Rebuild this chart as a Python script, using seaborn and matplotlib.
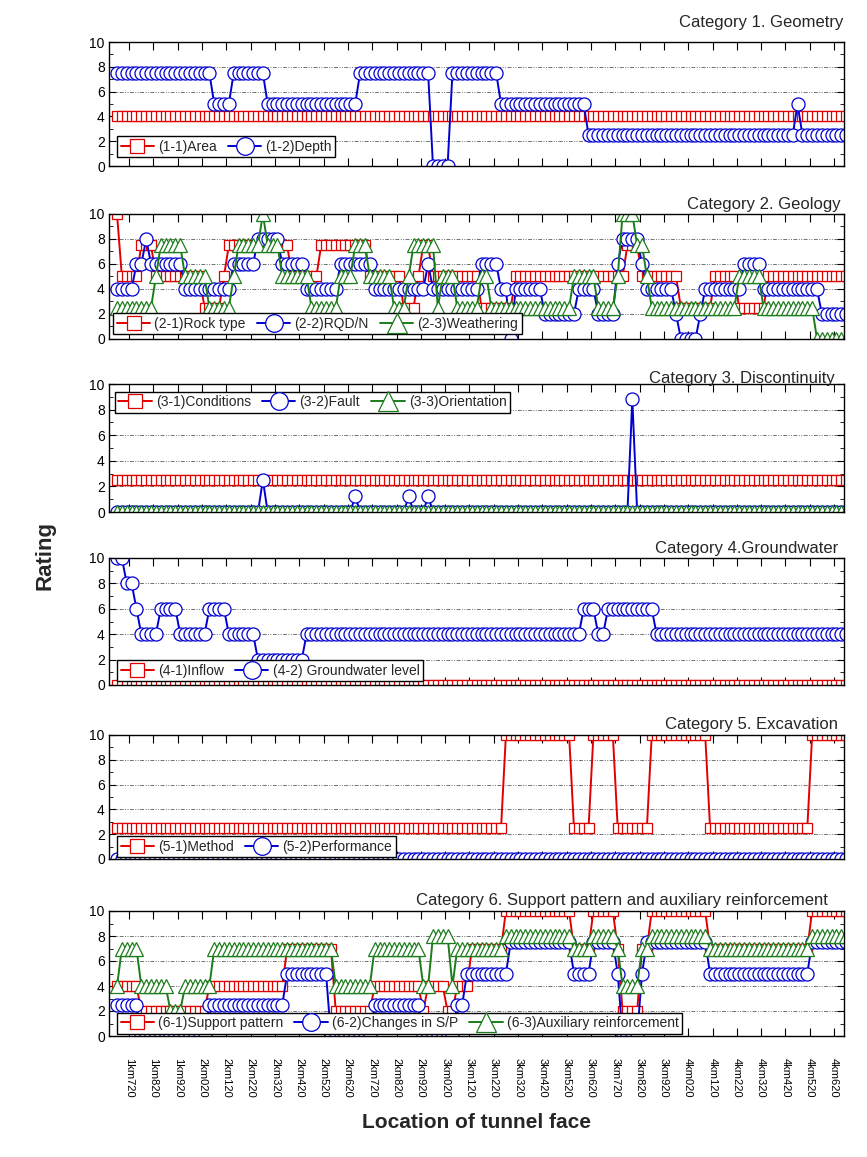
import numpy as np
import pandas as pd
import matplotlib
matplotlib.use("Agg")
import matplotlib.pyplot as plt
import seaborn as sns
from matplotlib.ticker import MultipleLocator

# ---------------- data ----------------
# tunnel face stations (m), one face every 20 m
stations = np.arange(1670, 4680, 20)

tick_m = [1720, 1820, 1920, 2020, 2120, 2220, 2320, 2420, 2520, 2620,
          2720, 2820, 2920, 3020, 3120, 3220, 3320, 3420, 3520, 3620,
          3720, 3820, 3920, 4020, 4120, 4220, 4320, 4420, 4520, 4620]
tick_labels = ["1km720", "1km820", "1km920", "2km020", "2km120", "2km220",
               "2km320", "2km420", "2km520", "2km620", "2km720", "2km820",
               "2km920", "3km020", "3km120", "3km220", "3km320", "3km420",
               "3km520", "3km620", "3km720", "3km820", "3km920", "4km020",
               "4km120", "4km220", "4km320", "4km420", "4km520", "4km620"]

# Category 1. Geometry
area = [4, 4, 4, 4, 4, 4, 4, 4, 4, 4,  4, 4, 4, 4, 4, 4, 4, 4, 4, 4,
        4, 4, 4, 4, 4, 4, 4, 4, 4, 4,  4, 4, 4, 4, 4, 4, 4, 4, 4, 4,
        4, 4, 4, 4, 4, 4, 4, 4, 4, 4,  4, 4, 4, 4, 4, 4, 4, 4, 4, 4,
        4, 4, 4, 4, 4, 4, 4, 4, 4, 4,  4, 4, 4, 4, 4, 4, 4, 4, 4, 4,
        4, 4, 4, 4, 4, 4, 4, 4, 4, 4,  4, 4, 4, 4, 4, 4, 4, 4, 4, 4,
        4, 4, 4, 4, 4, 4, 4, 4, 4, 4,  4, 4, 4, 4, 4, 4, 4, 4, 4, 4,
        4, 4, 4, 4, 4, 4, 4, 4, 4, 4,  4, 4, 4, 4, 4, 4, 4, 4, 4, 4,
        4, 4, 4, 4, 4, 4, 4, 4, 4, 4,  4]
depth = [7.5, 7.5, 7.5, 7.5, 7.5, 7.5, 7.5, 7.5, 7.5, 7.5,
         7.5, 7.5, 7.5, 7.5, 7.5, 7.5, 7.5, 7.5, 7.5, 7.5,
         5, 5, 5, 5, 7.5, 7.5, 7.5, 7.5, 7.5, 7.5,
         7.5, 5, 5, 5, 5, 5, 5, 5, 5, 5,
         5, 5, 5, 5, 5, 5, 5, 5, 5, 5,
         7.5, 7.5, 7.5, 7.5, 7.5, 7.5, 7.5, 7.5, 7.5, 7.5,
         7.5, 7.5, 7.5, 7.5, 7.5, 0, 0, 0, 0, 7.5,
         7.5, 7.5, 7.5, 7.5, 7.5, 7.5, 7.5, 7.5, 7.5, 5,
         5, 5, 5, 5, 5, 5, 5, 5, 5, 5,
         5, 5, 5, 5, 5, 5, 5, 2.5, 2.5, 2.5,
         2.5, 2.5, 2.5, 2.5, 2.5, 2.5, 2.5, 2.5, 2.5, 2.5,
         2.5, 2.5, 2.5, 2.5, 2.5, 2.5, 2.5, 2.5, 2.5, 2.5,
         2.5, 2.5, 2.5, 2.5, 2.5, 2.5, 2.5, 2.5, 2.5, 2.5,
         2.5, 2.5, 2.5, 2.5, 2.5, 2.5, 2.5, 2.5, 2.5, 2.5,
         5, 2.5, 2.5, 2.5, 2.5, 2.5, 2.5, 2.5, 2.5, 2.5,
         2.5]

# Category 2. Geology
rock_type = [10, 5, 5, 5, 5, 7.5, 7.5, 7.5, 5, 5,
             5, 5, 5, 5, 5, 5, 5, 5, 2.5, 2.5,
             2.5, 2.5, 5, 7.5, 7.5, 7.5, 7.5, 7.5, 7.5, 7.5,
             7.5, 7.5, 7.5, 7.5, 7.5, 7.5, 5, 5, 5, 5,
             5, 5, 7.5, 7.5, 7.5, 7.5, 7.5, 7.5, 7.5, 7.5,
             7.5, 7.5, 5, 5, 5, 5, 5, 5, 5, 2.5,
             2.5, 2.5, 5, 7.5, 7.5, 5, 5, 5, 5, 5,
             5, 5, 5, 5, 5, 2.5, 2.5, 2.5, 2.5, 2.5,
             2.5, 2.5, 5, 5, 5, 5, 5, 5, 5, 5,
             5, 5, 5, 5, 5, 5, 5, 5, 5, 5,
             5, 5, 5, 5, 5, 7.5, 7.5, 7.5, 5, 5,
             5, 5, 5, 5, 5, 5, 2.5, 2.5, 2.5, 2.5,
             2.5, 2.5, 2.5, 5, 5, 5, 5, 5, 2.5, 2.5,
             2.5, 2.5, 2.5, 2.5, 5, 5, 5, 5, 5, 5,
             5, 5, 5, 5, 5, 5, 5, 5, 5, 5,
             5]
rqd_n = [4, 4, 4, 4, 6, 6, 8, 6, 6, 6,
         6, 6, 6, 6, 4, 4, 4, 4, 4, 4,
         4, 4, 4, 4, 6, 6, 6, 6, 6, 8,
         8, 8, 8, 8, 6, 6, 6, 6, 6, 4,
         4, 4, 4, 4, 4, 4, 6, 6, 6, 6,
         6, 6, 6, 4, 4, 4, 4, 4, 4, 4,
         4, 4, 4, 4, 6, 4, 4, 4, 4, 4,
         4, 4, 4, 4, 4, 6, 6, 6, 6, 4,
         4, 0, 4, 4, 4, 4, 4, 4, 2, 2,
         2, 2, 2, 2, 2, 4, 4, 4, 4, 2,
         2, 2, 2, 6, 8, 8, 8, 8, 6, 4,
         4, 4, 4, 4, 4, 2, 0, 0, 0, 0,
         2, 4, 4, 4, 4, 4, 4, 4, 4, 6,
         6, 6, 6, 4, 4, 4, 4, 4, 4, 4,
         4, 4, 4, 4, 4, 2, 2, 2, 2, 2,
         2]
weathering = [2.5, 2.5, 2.5, 2.5, 2.5, 2.5, 2.5, 2.5, 5, 7.5,
              7.5, 7.5, 7.5, 7.5, 5, 5, 5, 5, 5, 2.5,
              2.5, 2.5, 2.5, 2.5, 5, 7.5, 7.5, 7.5, 7.5, 7.5,
              10, 7.5, 7.5, 7.5, 5, 5, 5, 5, 5, 5,
              2.5, 2.5, 2.5, 2.5, 2.5, 2.5, 5, 5, 5, 7.5,
              7.5, 7.5, 5, 5, 5, 5, 5, 2.5, 2.5, 2.5,
              5, 7.5, 7.5, 7.5, 7.5, 7.5, 2.5, 5, 5, 5,
              2.5, 2.5, 2.5, 2.5, 2.5, 5, 5, 2.5, 2.5, 2.5,
              2.5, 2.5, 2.5, 2.5, 2.5, 2.5, 2.5, 2.5, 2.5, 2.5,
              2.5, 2.5, 2.5, 2.5, 5, 5, 5, 5, 5, 2.5,
              2.5, 2.5, 2.5, 5, 10, 10, 10, 7.5, 7.5, 5,
              2.5, 2.5, 2.5, 2.5, 2.5, 2.5, 2.5, 2.5, 2.5, 2.5,
              2.5, 2.5, 2.5, 2.5, 2.5, 2.5, 2.5, 2.5, 5, 5,
              5, 5, 5, 2.5, 2.5, 2.5, 2.5, 2.5, 2.5, 2.5,
              2.5, 2.5, 2.5, 2.5, 0, 0, 0, 0, 0, 0,
              0]

# Category 3. Discontinuity
conditions = [2.5, 2.5, 2.5, 2.5, 2.5, 2.5, 2.5, 2.5, 2.5, 2.5,
              2.5, 2.5, 2.5, 2.5, 2.5, 2.5, 2.5, 2.5, 2.5, 2.5,
              2.5, 2.5, 2.5, 2.5, 2.5, 2.5, 2.5, 2.5, 2.5, 2.5,
              2.5, 2.5, 2.5, 2.5, 2.5, 2.5, 2.5, 2.5, 2.5, 2.5,
              2.5, 2.5, 2.5, 2.5, 2.5, 2.5, 2.5, 2.5, 2.5, 2.5,
              2.5, 2.5, 2.5, 2.5, 2.5, 2.5, 2.5, 2.5, 2.5, 2.5,
              2.5, 2.5, 2.5, 2.5, 2.5, 2.5, 2.5, 2.5, 2.5, 2.5,
              2.5, 2.5, 2.5, 2.5, 2.5, 2.5, 2.5, 2.5, 2.5, 2.5,
              2.5, 2.5, 2.5, 2.5, 2.5, 2.5, 2.5, 2.5, 2.5, 2.5,
              2.5, 2.5, 2.5, 2.5, 2.5, 2.5, 2.5, 2.5, 2.5, 2.5,
              2.5, 2.5, 2.5, 2.5, 2.5, 2.5, 2.5, 2.5, 2.5, 2.5,
              2.5, 2.5, 2.5, 2.5, 2.5, 2.5, 2.5, 2.5, 2.5, 2.5,
              2.5, 2.5, 2.5, 2.5, 2.5, 2.5, 2.5, 2.5, 2.5, 2.5,
              2.5, 2.5, 2.5, 2.5, 2.5, 2.5, 2.5, 2.5, 2.5, 2.5,
              2.5, 2.5, 2.5, 2.5, 2.5, 2.5, 2.5, 2.5, 2.5, 2.5,
              2.5]
fault = [0, 0, 0, 0, 0, 0, 0, 0, 0, 0,  0, 0, 0, 0, 0, 0, 0, 0, 0, 0,
         0, 0, 0, 0, 0, 0, 0, 0, 0, 0,  2.5, 0, 0, 0, 0, 0, 0, 0, 0, 0,
         0, 0, 0, 0, 0, 0, 0, 0, 0, 1.25,  0, 0, 0, 0, 0, 0, 0, 0, 0, 0,
         1.25, 0, 0, 0, 1.25, 0, 0, 0, 0, 0,  0, 0, 0, 0, 0, 0, 0, 0, 0, 0,
         0, 0, 0, 0, 0, 0, 0, 0, 0, 0,  0, 0, 0, 0, 0, 0, 0, 0, 0, 0,
         0, 0, 0, 0, 0, 0, 8.8, 0, 0, 0,  0, 0, 0, 0, 0, 0, 0, 0, 0, 0,
         0, 0, 0, 0, 0, 0, 0, 0, 0, 0,  0, 0, 0, 0, 0, 0, 0, 0, 0, 0,
         0, 0, 0, 0, 0, 0, 0, 0, 0, 0,  0]
orientation = [0, 0, 0, 0, 0, 0, 0, 0, 0, 0,  0, 0, 0, 0, 0, 0, 0, 0, 0, 0,
               0, 0, 0, 0, 0, 0, 0, 0, 0, 0,  0, 0, 0, 0, 0, 0, 0, 0, 0, 0,
               0, 0, 0, 0, 0, 0, 0, 0, 0, 0,  0, 0, 0, 0, 0, 0, 0, 0, 0, 0,
               0, 0, 0, 0, 0, 0, 0, 0, 0, 0,  0, 0, 0, 0, 0, 0, 0, 0, 0, 0,
               0, 0, 0, 0, 0, 0, 0, 0, 0, 0,  0, 0, 0, 0, 0, 0, 0, 0, 0, 0,
               0, 0, 0, 0, 0, 0, 0, 0, 0, 0,  0, 0, 0, 0, 0, 0, 0, 0, 0, 0,
               0, 0, 0, 0, 0, 0, 0, 0, 0, 0,  0, 0, 0, 0, 0, 0, 0, 0, 0, 0,
               0, 0, 0, 0, 0, 0, 0, 0, 0, 0,  0]

# Category 4. Groundwater
inflow = [0, 0, 0, 0, 0, 0, 0, 0, 0, 0,  0, 0, 0, 0, 0, 0, 0, 0, 0, 0,
          0, 0, 0, 0, 0, 0, 0, 0, 0, 0,  0, 0, 0, 0, 0, 0, 0, 0, 0, 0,
          0, 0, 0, 0, 0, 0, 0, 0, 0, 0,  0, 0, 0, 0, 0, 0, 0, 0, 0, 0,
          0, 0, 0, 0, 0, 0, 0, 0, 0, 0,  0, 0, 0, 0, 0, 0, 0, 0, 0, 0,
          0, 0, 0, 0, 0, 0, 0, 0, 0, 0,  0, 0, 0, 0, 0, 0, 0, 0, 0, 0,
          0, 0, 0, 0, 0, 0, 0, 0, 0, 0,  0, 0, 0, 0, 0, 0, 0, 0, 0, 0,
          0, 0, 0, 0, 0, 0, 0, 0, 0, 0,  0, 0, 0, 0, 0, 0, 0, 0, 0, 0,
          0, 0, 0, 0, 0, 0, 0, 0, 0, 0,  0]
gw_level = [10, 10, 8, 8, 6, 4, 4, 4, 4, 6,
            6, 6, 6, 4, 4, 4, 4, 4, 4, 6,
            6, 6, 6, 4, 4, 4, 4, 4, 4, 2,
            2, 2, 2, 2, 2, 2, 2, 2, 2, 4,
            4, 4, 4, 4, 4, 4, 4, 4, 4, 4,
            4, 4, 4, 4, 4, 4, 4, 4, 4, 4,
            4, 4, 4, 4, 4, 4, 4, 4, 4, 4,
            4, 4, 4, 4, 4, 4, 4, 4, 4, 4,
            4, 4, 4, 4, 4, 4, 4, 4, 4, 4,
            4, 4, 4, 4, 4, 4, 6, 6, 6, 4,
            4, 6, 6, 6, 6, 6, 6, 6, 6, 6,
            6, 4, 4, 4, 4, 4, 4, 4, 4, 4,
            4, 4, 4, 4, 4, 4, 4, 4, 4, 4,
            4, 4, 4, 4, 4, 4, 4, 4, 4, 4,
            4, 4, 4, 4, 4, 4, 4, 4, 4, 4,
            4]

# Category 5. Excavation
method = [2.5, 2.5, 2.5, 2.5, 2.5, 2.5, 2.5, 2.5, 2.5, 2.5,
          2.5, 2.5, 2.5, 2.5, 2.5, 2.5, 2.5, 2.5, 2.5, 2.5,
          2.5, 2.5, 2.5, 2.5, 2.5, 2.5, 2.5, 2.5, 2.5, 2.5,
          2.5, 2.5, 2.5, 2.5, 2.5, 2.5, 2.5, 2.5, 2.5, 2.5,
          2.5, 2.5, 2.5, 2.5, 2.5, 2.5, 2.5, 2.5, 2.5, 2.5,
          2.5, 2.5, 2.5, 2.5, 2.5, 2.5, 2.5, 2.5, 2.5, 2.5,
          2.5, 2.5, 2.5, 2.5, 2.5, 2.5, 2.5, 2.5, 2.5, 2.5,
          2.5, 2.5, 2.5, 2.5, 2.5, 2.5, 2.5, 2.5, 2.5, 2.5,
          10, 10, 10, 10, 10, 10, 10, 10, 10, 10,
          10, 10, 10, 10, 2.5, 2.5, 2.5, 2.5, 10, 10,
          10, 10, 10, 2.5, 2.5, 2.5, 2.5, 2.5, 2.5, 2.5,
          10, 10, 10, 10, 10, 10, 10, 10, 10, 10,
          10, 10, 2.5, 2.5, 2.5, 2.5, 2.5, 2.5, 2.5, 2.5,
          2.5, 2.5, 2.5, 2.5, 2.5, 2.5, 2.5, 2.5, 2.5, 2.5,
          2.5, 2.5, 2.5, 10, 10, 10, 10, 10, 10, 10,
          10]
performance = [0, 0, 0, 0, 0, 0, 0, 0, 0, 0,  0, 0, 0, 0, 0, 0, 0, 0, 0, 0,
               0, 0, 0, 0, 0, 0, 0, 0, 0, 0,  0, 0, 0, 0, 0, 0, 0, 0, 0, 0,
               0, 0, 0, 0, 0, 0, 0, 0, 0, 0,  0, 0, 0, 0, 0, 0, 0, 0, 0, 0,
               0, 0, 0, 0, 0, 0, 0, 0, 0, 0,  0, 0, 0, 0, 0, 0, 0, 0, 0, 0,
               0, 0, 0, 0, 0, 0, 0, 0, 0, 0,  0, 0, 0, 0, 0, 0, 0, 0, 0, 0,
               0, 0, 0, 0, 0, 0, 0, 0, 0, 0,  0, 0, 0, 0, 0, 0, 0, 0, 0, 0,
               0, 0, 0, 0, 0, 0, 0, 0, 0, 0,  0, 0, 0, 0, 0, 0, 0, 0, 0, 0,
               0, 0, 0, 0, 0, 0, 0, 0, 0, 0,  0]

# Category 6. Support pattern and auxiliary reinforcement
support = [4, 4, 4, 4, 4, 2, 2, 2, 2, 2,
           2, 2, 2, 2, 2, 2, 2, 2, 2, 4,
           4, 4, 4, 4, 4, 4, 4, 4, 4, 4,
           4, 4, 4, 4, 4, 7, 7, 7, 7, 7,
           7, 7, 7, 7, 7, 2, 2, 2, 2, 2,
           2, 2, 2, 4, 4, 4, 4, 4, 4, 4,
           4, 4, 4, 2, 4, 4, 4, 4, 2, 2,
           4, 4, 4, 7, 7, 7, 7, 7, 7, 7,
           10, 10, 10, 10, 10, 10, 10, 10, 10, 10,
           10, 10, 10, 10, 7, 7, 7, 7, 10, 10,
           10, 10, 10, 7, 2, 2, 2, 2, 7, 7,
           10, 10, 10, 10, 10, 10, 10, 10, 10, 10,
           10, 10, 7, 7, 7, 7, 7, 7, 7, 7,
           7, 7, 7, 7, 7, 7, 7, 7, 7, 7,
           7, 7, 7, 10, 10, 10, 10, 10, 10, 10,
           10]
changes_sp = [2.5, 2.5, 2.5, 2.5, 2.5, 0, 0, 0, 0, 0,
              0, 0, 0, 0, 0, 0, 0, 0, 0, 2.5,
              2.5, 2.5, 2.5, 2.5, 2.5, 2.5, 2.5, 2.5, 2.5, 2.5,
              2.5, 2.5, 2.5, 2.5, 2.5, 5, 5, 5, 5, 5,
              5, 5, 5, 5, 0, 0, 0, 0, 0, 0,
              0, 0, 0, 2.5, 2.5, 2.5, 2.5, 2.5, 2.5, 2.5,
              2.5, 2.5, 2.5, 0, 0, 0, 0, 0, 0, 0,
              2.5, 2.5, 5, 5, 5, 5, 5, 5, 5, 5,
              5, 7.5, 7.5, 7.5, 7.5, 7.5, 7.5, 7.5, 7.5, 7.5,
              7.5, 7.5, 7.5, 7.5, 5, 5, 5, 5, 7.5, 7.5,
              7.5, 7.5, 7.5, 5, 0, 0, 0, 0, 5, 7.5,
              7.5, 7.5, 7.5, 7.5, 7.5, 7.5, 7.5, 7.5, 7.5, 7.5,
              7.5, 7.5, 5, 5, 5, 5, 5, 5, 5, 5,
              5, 5, 5, 5, 5, 5, 5, 5, 5, 5,
              5, 5, 5, 7.5, 7.5, 7.5, 7.5, 7.5, 7.5, 7.5,
              7.5]
auxiliary = [4, 7, 7, 7, 7, 4, 4, 4, 4, 4,
             4, 2, 2, 2, 4, 4, 4, 4, 4, 4,
             7, 7, 7, 7, 7, 7, 7, 7, 7, 7,
             7, 7, 7, 7, 7, 7, 7, 7, 7, 7,
             7, 7, 7, 7, 7, 4, 4, 4, 4, 4,
             4, 4, 4, 7, 7, 7, 7, 7, 7, 7,
             7, 7, 7, 4, 4, 8, 8, 8, 8, 4,
             7, 7, 7, 7, 7, 7, 7, 7, 7, 7,
             8, 8, 8, 8, 8, 8, 8, 8, 8, 8,
             8, 8, 8, 8, 7, 7, 7, 7, 8, 8,
             8, 8, 8, 7, 4, 4, 4, 4, 7, 7,
             8, 8, 8, 8, 8, 8, 8, 8, 8, 8,
             8, 8, 7, 7, 7, 7, 7, 7, 7, 7,
             7, 7, 7, 7, 7, 7, 7, 7, 7, 7,
             7, 7, 7, 8, 8, 8, 8, 8, 8, 8,
             8]

# ---------------- styling ----------------
sns.set_style("ticks")
plt.rcParams["font.family"] = ["Liberation Sans", "DejaVu Sans"]

RED, BLUE, GREEN = "#e00000", "#0000d0", "#1c7c1c"
MK = {"s": 7.8, "o": 9.4, "^": 10.5}

panels = [
    dict(title="Category 1. Geometry", top=42, bot=166, tx=0.9986, ty=22,
         series=[("(1-1)Area", area, RED, "s"), ("(1-2)Depth", depth, BLUE, "o")],
         leg=("lower left", (0.011, 0.07))),
    dict(title="Category 2. Geology", top=214, bot=339, tx=0.995, ty=205,
         series=[("(2-1)Rock type", rock_type, RED, "s"), ("(2-2)RQD/N", rqd_n, BLUE, "o"),
                 ("(2-3)Weathering", weathering, GREEN, "^")],
         leg=("lower left", (0.006, 0.04))),
    dict(title="Category 3. Discontinuity", top=384, bot=512, tx=0.988, ty=378,
         series=[("(3-1)Conditions", conditions, RED, "s"), ("(3-2)Fault", fault, BLUE, "o"),
                 ("(3-3)Orientation", orientation, GREEN, "^")],
         leg=("upper left", (0.008, 0.94))),
    dict(title="Category 4.Groundwater", top=558, bot=685, tx=0.992, ty=549,
         series=[("(4-1)Inflow", inflow, RED, "s"), ("(4-2) Groundwater level", gw_level, BLUE, "o")],
         leg=("lower left", (0.011, 0.03))),
    dict(title="Category 5. Excavation", top=735, bot=859, tx=0.992, ty=725,
         series=[("(5-1)Method", method, RED, "s"), ("(5-2)Performance", performance, BLUE, "o")],
         leg=("lower left", (0.011, 0.015))),
    dict(title="Category 6. Support pattern and auxiliary reinforcement", top=911, bot=1036,
         tx=0.978, ty=901,
         series=[("(6-1)Support pattern", support, RED, "s"), ("(6-2)Changes in S/P", changes_sp, BLUE, "o"),
                 ("(6-3)Auxiliary reinforcement", auxiliary, GREEN, "^")],
         leg=("lower left", (0.011, 0.02))),
]

W, H = 867, 1157
fig = plt.figure(figsize=(W / 100, H / 100), dpi=100)
L_PX, R_PX = 109, 844

for k, p in enumerate(panels):
    ax = fig.add_axes([L_PX / W, 1 - p["bot"] / H, (R_PX - L_PX) / W, (p["bot"] - p["top"]) / H])
    for label, vals, col, mk in p["series"]:
        df = pd.DataFrame({"station": stations, "rating": vals})
        sns.lineplot(data=df, x="station", y="rating", ax=ax, color=col, marker=mk,
                     markersize=MK[mk], markerfacecolor="white", markeredgecolor=col,
                     markeredgewidth=0.9, linewidth=1.4, estimator=None, sort=False,
                     legend=False)
    ax.set_xlim(1637, 4661)
    ax.set_ylim(0, 10)
    ax.set_xlabel("")
    ax.set_ylabel("")
    ax.set_yticks([0, 2, 4, 6, 8, 10])
    ax.yaxis.set_minor_locator(MultipleLocator(1))
    ax.set_xticks(tick_m)
    ax.grid(axis="y", which="major", color="#707070", linewidth=0.7,
            linestyle=(0, (4, 1.5, 1, 1.5, 1, 1.5)))
    ax.set_axisbelow(True)
    ax.tick_params(axis="both", which="both", direction="in", top=True, right=True,
                   colors="black")
    ax.tick_params(axis="y", which="major", length=5, labelsize=10, pad=3)
    ax.tick_params(axis="y", which="minor", length=3)
    ax.tick_params(axis="x", which="major", length=6)
    for sp in ax.spines.values():
        sp.set_color("black")
        sp.set_linewidth(1.0)
    if k == len(panels) - 1:
        ax.set_xticklabels(tick_labels, rotation=-90, fontsize=8)
        ax.tick_params(axis="x", pad=16)
    else:
        ax.set_xticklabels([])
    handles = ax.get_lines()[: len(p["series"])]
    leg = ax.legend(handles, [s[0] for s in p["series"]], loc=p["leg"][0],
                    bbox_to_anchor=p["leg"][1], ncol=len(p["series"]), fontsize=10,
                    frameon=True, fancybox=False, edgecolor="black", framealpha=1,
                    handlelength=2.4, handletextpad=0.3, columnspacing=0.8,
                    borderpad=0.25, borderaxespad=0, markerscale=1.35)
    leg.get_frame().set_linewidth(1.0)
    ax.text(p["tx"], 1 + (p["top"] - p["ty"]) / (p["bot"] - p["top"]), p["title"],
            transform=ax.transAxes, ha="right", va="center", fontsize=12)

fig.text(45 / W, 1 - 555 / H, "Rating", rotation=90, fontsize=16, fontweight="bold",
         ha="center", va="center")
fig.text(477 / W, 1 - 1123 / H, "Location of tunnel face", fontsize=15, fontweight="bold",
         ha="center", va="center")

fig.savefig("out.png", dpi=100)
